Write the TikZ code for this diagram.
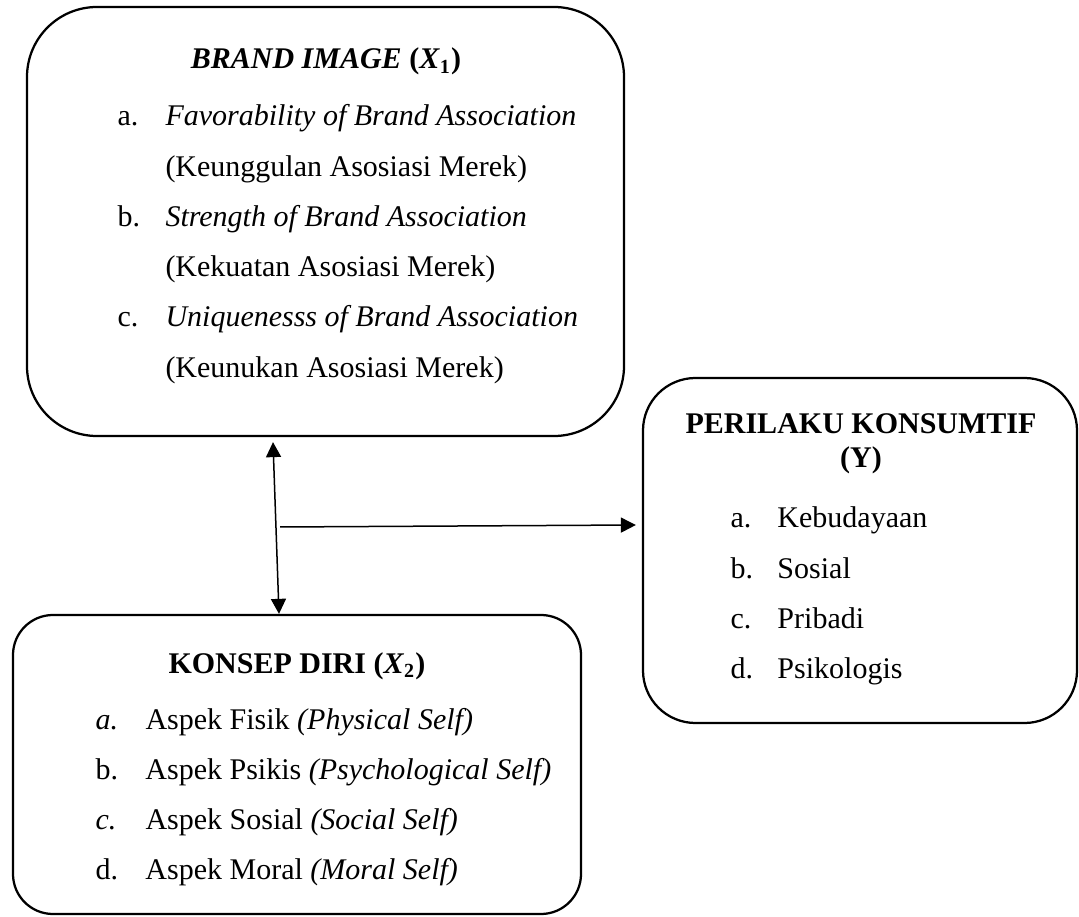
\documentclass[tikz,border=0pt]{standalone}
\usepackage{fontspec}
\setmainfont{Liberation Serif}
\usetikzlibrary{arrows.meta}
\tikzset{>={Triangle[length=6pt,width=6pt]}}

\begin{document}
\begin{tikzpicture}[x=0.4pt,y=-0.4pt,
                    font=\fontsize{12}{20.1}\selectfont,
                    kotak/.style={draw,line width=0.9pt,inner sep=0},
                    judul/.style={anchor=base,inner sep=0,font=\fontsize{12}{20.1}\selectfont\bfseries},
                    daftar/.style={anchor=base west,inner sep=0},
                    panah/.style={line width=0.6pt}
        ]
\useasboundingbox (0,0) rectangle (1079,917);
% kotak variabel
\node[kotak,rounded corners=28pt,minimum width=238.8pt,minimum height=171.6pt] (bi) at (325.5,221.5) {};
\node[kotak,rounded corners=21pt,minimum width=173.6pt,minimum height=138pt] (pk) at (860,550.5) {};
\node[kotak,rounded corners=16pt,minimum width=227.2pt,minimum height=119.6pt] (kd) at (297,764.5) {};
% isi brand image
\node[judul] (bi-judul) at (326,69) {\textit{BRAND IMAGE} (\textit{X}\textsubscript{1})};
\node[daftar] (bi-isi) at (117,126) {\begin{tabular}[t]{@{}p{19.2pt}@{}l@{}}
    a. & \textit{Favorability of Brand Association}\\
       & (Keunggulan Asosiasi Merek)\\
    b. & \textit{Strength of Brand Association}\\
       & (Kekuatan Asosiasi Merek)\\
    c. & \textit{Uniquenesss of Brand Association}\\
       & (Keunukan Asosiasi Merek)
  \end{tabular}};
% isi perilaku konsumtif
\node[judul] (pk-judul) at (861,434) {PERILAKU KONSUMTIF};
\node[judul] (pk-y) at (861,468) {(Y)};
\node[daftar] (pk-isi) at (730,528) {\begin{tabular}[t]{@{}p{18.8pt}@{}l@{}}
    a. & Kebudayaan\\
    b. & Sosial\\
    c. & Pribadi\\
    d. & Psikologis
  \end{tabular}};
% isi konsep diri
\node[judul] (kd-judul) at (297,673) {KONSEP DIRI (\textit{X}\textsubscript{2})};
\node[daftar] (kd-isi) at (95,729) {\begin{tabular}[t]{@{}p{20pt}@{}l@{}}
    \textit{a.} & Aspek Fisik \textit{(Physical Self)}\\
    b.          & Aspek Psikis \textit{(Psychological Self)}\\
    \textit{c.} & Aspek Sosial \textit{(Social Self)}\\
    d.          & Aspek Moral \textit{(Moral Self)}
  \end{tabular}};
% hubungan
\coordinate (cabang) at (280,527);
\draw[panah,<->] ([xshift=-21pt,yshift=-2pt]bi.south) -- ([xshift=-7.2pt]kd.north);
\draw[panah,->] (cabang) -- ([xshift=-2.4pt,yshift=10.2pt]pk.west);
\end{tikzpicture}
\end{document}
